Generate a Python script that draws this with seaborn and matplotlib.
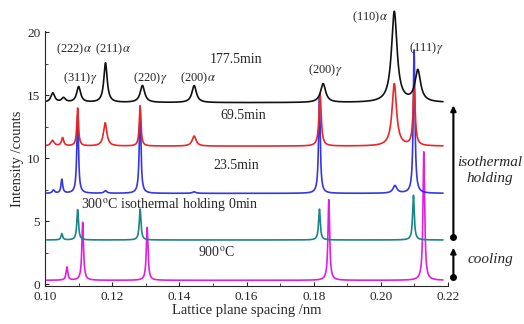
import numpy as np
import pandas as pd
import seaborn as sns
import matplotlib.pyplot as plt

# peak lists: centre (nm), height above baseline, half width (nm)
series = ['900°C', '0min', '23.5min', '69.5min', '177.5min']
baselines = [0.3, 3.5, 7.2, 10.95, 14.4]
colors = ['#e020e0', '#1a8585', '#2020e0', '#e82828', '#111111']

pk_900_pos = [0.1065, 0.1112, 0.1304, 0.1845, 0.2128]
pk_900_h = [1.05, 4.6, 4.2, 6.4, 10.2]
pk_900_w = [0.0003, 0.0003, 0.0003, 0.0003, 0.0003]

pk_0_pos = [0.1050, 0.1097, 0.1283, 0.1817, 0.2097]
pk_0_h = [0.5, 2.4, 2.45, 2.45, 3.55]
pk_0_w = [0.0003, 0.0003, 0.0003, 0.0003, 0.0003]

pk_23_pos = [0.1025, 0.1050, 0.1097, 0.1180, 0.1283, 0.1444, 0.1817, 0.2042, 0.2099]
pk_23_h = [0.25, 1.1, 6.2, 0.2, 6.6, 0.12, 7.6, 0.6, 11.4]
pk_23_w = [0.0004, 0.0003, 0.0003, 0.0005, 0.0003, 0.0006, 0.0003, 0.0007, 0.0003]

pk_69_pos = [0.1022, 0.1052, 0.1097, 0.1179, 0.1283, 0.1444, 0.1819, 0.2040, 0.2099]
pk_69_h = [0.45, 0.65, 3.0, 1.85, 3.2, 0.8, 4.15, 4.95, 4.5]
pk_69_w = [0.0006, 0.0004, 0.0003, 0.0006, 0.0003, 0.0007, 0.0004, 0.0008, 0.0004]

pk_177_pos = [0.1023, 0.1055, 0.1100, 0.1180, 0.1290, 0.1444, 0.1828, 0.2040, 0.2110]
pk_177_h = [0.75, 0.35, 1.25, 3.15, 1.35, 1.35, 1.5, 7.2, 2.5]
pk_177_w = [0.0007, 0.0007, 0.0007, 0.0006, 0.0008, 0.0008, 0.0009, 0.0010, 0.0010]

peaks = [(pk_900_pos, pk_900_h, pk_900_w), (pk_0_pos, pk_0_h, pk_0_w),
         (pk_23_pos, pk_23_h, pk_23_w), (pk_69_pos, pk_69_h, pk_69_w),
         (pk_177_pos, pk_177_h, pk_177_w)]

d = np.linspace(0.1005, 0.2185, 4000)
rows = []
for name, base, (pos, h, w) in zip(series, baselines, peaks):
    y = np.full_like(d, base)
    for p, a, g in zip(pos, h, w):
        y += a / (1 + ((d - p) / g) ** 2)
    rows.append(pd.DataFrame({'d': d, 'I': y, 'series': name}))
df = pd.concat(rows, ignore_index=True)

sns.set_style('ticks')
plt.rcParams['font.family'] = ['Liberation Serif', 'DejaVu Serif']
plt.rcParams['mathtext.fontset'] = 'stix'

fig = plt.figure(figsize=(5.24, 3.24), dpi=100)
ax = fig.add_axes([0.086, 0.117, 0.769, 0.787])

for name, c in zip(series, colors):
    sub = df[df['series'] == name]
    sns.lineplot(data=sub, x='d', y='I', color=c, lw=1.2, ax=ax,
                 sort=False, alpha=0.9 if name == '23.5min' else 1.0)
for ln in ax.lines:
    ln.set_clip_on(False)

ax.set_xlim(0.10, 0.22)
ax.set_ylim(-0.16, 20.08)
ax.set_xticks(np.arange(0.10, 0.2201, 0.02))
ax.set_xticks(np.arange(0.11, 0.22, 0.02), minor=True)
ax.set_yticks([0, 5, 10, 15, 20])
ax.set_yticks([2.5, 7.5, 12.5, 17.5], minor=True)
ax.set_xticklabels(['0.10', '0.12', '0.14', '0.16', '0.18', '0.20', '0.22'])
ax.tick_params(direction='in', labelsize=9.5, length=3)
ax.tick_params(which='minor', direction='in', length=2)
for s in ['top', 'right']:
    ax.spines[s].set_visible(False)
ax.set_xlabel('Lattice plane spacing /nm', fontsize=10.5, labelpad=1)
ax.set_ylabel('Intensity /counts', fontsize=10.5, labelpad=2)

lbl = dict(fontsize=9, ha='center', va='center')
ax.text(0.1085, 18.6, r'(222)$\alpha$', **lbl)
ax.text(0.1203, 18.6, r'(211)$\alpha$', **lbl)
ax.text(0.1104, 16.35, r'(311)$\gamma$', **lbl)
ax.text(0.1312, 16.35, r'(220)$\gamma$', **lbl)
ax.text(0.1456, 16.35, r'(200)$\alpha$', **lbl)
ax.text(0.1834, 17.0, r'(200)$\gamma$', **lbl)
ax.text(0.1968, 21.2, r'(110)$\alpha$', **lbl)
ax.text(0.2135, 18.7, r'(111)$\gamma$', **lbl)

cond = dict(fontsize=10, ha='center', va='center')
ax.text(0.1570, 17.8, '177.5min', **cond)
ax.text(0.1590, 13.4, '69.5min', **cond)
ax.text(0.1570, 9.45, '23.5min', **cond)
ax.text(0.1370, 6.3, '300$^{\\rm o}$C isothermal holding 0min', **cond)
ax.text(0.1510, 2.55, '900$^{\\rm o}$C', **cond)

xa = 0.2216
ax.annotate('', xy=(xa, 14.4), xytext=(xa, 3.75), annotation_clip=False,
            arrowprops=dict(arrowstyle='-|>', color='black', lw=1.5, mutation_scale=8))
ax.annotate('', xy=(xa, 3.1), xytext=(xa, 0.6), annotation_clip=False,
            arrowprops=dict(arrowstyle='-|>', color='black', lw=1.5, mutation_scale=8))
ax.plot([xa, xa], [3.75, 0.6], 'o', color='black', ms=4, clip_on=False)
ax.text(0.2325, 9.0, 'isothermal\nholding', fontsize=11, style='italic',
        ha='center', va='center', linespacing=1.3)
ax.text(0.2325, 1.95, 'cooling', fontsize=11, style='italic', ha='center', va='center')

fig.savefig('out.png', dpi=100)
